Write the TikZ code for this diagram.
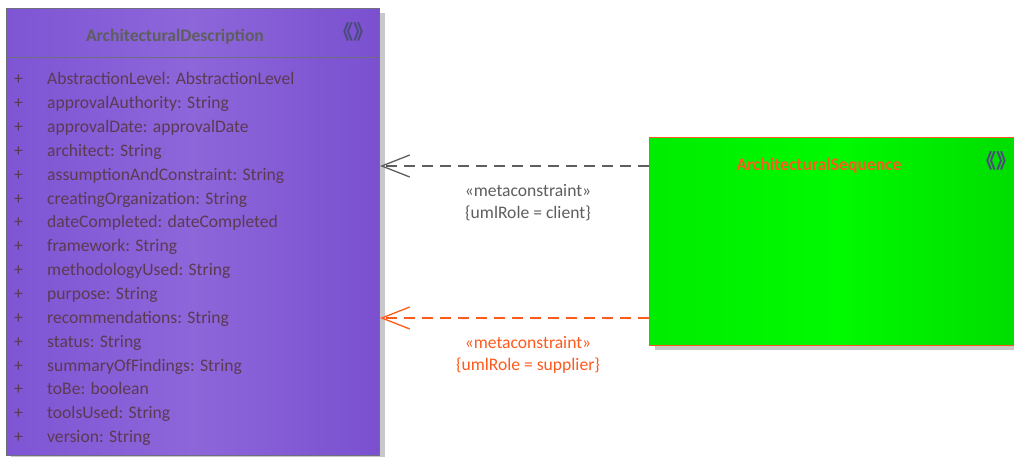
\documentclass[tikz,border=0pt]{standalone}
\usepackage{fontspec}
\setmainfont{Carlito}
\newfontfamily\cjkfont{Noto Sans CJK SC}
\usetikzlibrary{arrows.meta,calc}
\definecolor{lilaA}{HTML}{7E55D4}
\definecolor{lilaB}{HTML}{8D66DA}
\definecolor{lilaC}{HTML}{7A50CF}
\definecolor{verdeA}{HTML}{00EC00}
\definecolor{verdeB}{HTML}{00FA00}
\definecolor{verdeC}{HTML}{00DC00}
\definecolor{borde}{HTML}{6E6E80}
\definecolor{texto}{HTML}{5C3A52}
\definecolor{gris}{HTML}{5E5E5E}
\definecolor{naranja}{HTML}{FF5A1E}
\definecolor{sombra}{HTML}{C8C8C8}

\begin{document}
\begin{tikzpicture}[x=1pt, y=-1pt, line join=round, font=\fontsize{17.6}{20}\selectfont,
  clase/.style={anchor=north west, inner sep=0pt, line width=1pt},
  attr/.style={text=texto, anchor=base west, inner sep=0pt},
  titulo/.style={font=\fontsize{17.6}{20}\selectfont\bfseries},
  icono/.style={text=gris!80!blue, font=\cjkfont\bfseries\fontsize{20}{20}\selectfont, inner sep=0pt},
  rol/.style={align=center, font=\fontsize{17.6}{22}\selectfont},
  dep/.style={dash pattern=on 11pt off 7pt, line width=1.3pt,
    -{Straight Barb[length=28pt, width=22pt, line width=1.3pt]}}]
  \useasboundingbox[fill=white] (0,0) rectangle (1014,457);

  % sombras
  \fill[sombra] (11,13) rectangle (385,460);
  \fill[sombra] (655,143) rectangle (1020,350);

  % clase ArchitecturalDescription
  \node[clase, draw=borde, minimum width=373pt, minimum height=447pt,
    left color=lilaA, right color=lilaC, middle color=lilaB] (desc) at (6,8) {};
  \draw[borde, line width=1pt] ($(desc.north west)+(0,50)$) -- ($(desc.north east)+(0,50)$);
  \node[titulo, text=gris] (descTit) at (175,37) {ArchitecturalDescription};
  \node[icono] (descIco) at (353,32) {《》};

  \foreach \nombre [count=\i] in {AbstractionLevel: AbstractionLevel, approvalAuthority: String,
      approvalDate: approvalDate, architect: String, assumptionAndConstraint: String,
      creatingOrganization: String, dateCompleted: dateCompleted, framework: String,
      methodologyUsed: String, purpose: String, recommendations: String, status: String,
      summaryOfFindings: String, toBe: boolean, toolsUsed: String, version: String}{
    \node[attr] (mas\i) at (14, 61+23.85*\i) {+};
    \node[attr] (attr\i) at (47, 61+23.85*\i) {\nombre};
  }

  % clase ArchitecturalSequence
  \node[clase, draw=naranja, minimum width=371pt, minimum height=208pt,
    left color=verdeA, right color=verdeC, middle color=verdeB] (seq) at (649,137) {};
  \node[titulo, text=naranja] (seqTit) at (819,166) {ArchitecturalSequence};
  \node[icono] (seqIco) at (996,161) {《》};

  % dependencias
  \draw[dep, gris] (seq.west |- 0,166) -- (desc.east |- 0,166);
  \node[rol, text=gris] (rol1) at (528,203) {«metaconstraint»\\\{umlRole = client\}};
  \draw[dep, naranja] (seq.west |- 0,318) -- (desc.east |- 0,318);
  \node[rol, text=naranja] (rol2) at (528,355) {«metaconstraint»\\\{umlRole = supplier\}};
\end{tikzpicture}
\end{document}
